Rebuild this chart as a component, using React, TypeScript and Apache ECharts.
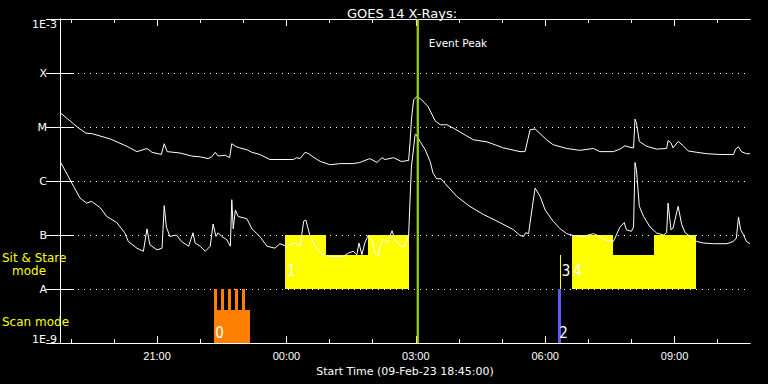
import React, { useEffect, useRef } from 'react';
import * as echarts from 'echarts';

// Time axis: minutes after the start time 18:45 (09-Feb-23), 16 hours shown
const START_CLOCK_MIN = 18 * 60 + 45;
const SPAN_MIN = 960;
const majorTickMin = [135, 315, 495, 675, 855];
const minorTickMin = [15, 75, 195, 255, 375, 435, 555, 615, 735, 795, 915];

const yTickLabels: Record<string, string> = {
  '-9': '1E-9', '-8': 'A', '-7': 'B', '-6': 'C', '-5': 'M', '-4': 'X', '-3': '1E-3',
};

// GOES 14 long channel (1-8 Å), W/m²
const longTimes = [1, 11, 24, 36, 45, 70, 93, 107, 121, 128, 141, 145, 149, 167, 183, 195, 206, 211, 216, 220, 230, 236, 239, 244, 250, 260, 267, 278, 292, 306, 325, 329, 334, 341, 346, 352, 362, 376, 390, 408, 417, 431, 441, 448, 452, 464, 475, 485, 487, 489, 492, 497, 503, 512, 522, 529, 538, 547, 575, 594, 617, 640, 647, 654, 661, 677, 686, 705, 723, 742, 751, 770, 779, 786, 793, 798, 800, 802, 806, 816, 830, 844, 846, 850, 853, 860, 867, 874, 886, 900, 918, 937, 940, 944, 948, 955, 960];
const longFlux = [1.8e-5, 1.4e-5, 1.0e-5, 7.7e-6, 7.5e-6, 6.0e-6, 4.4e-6, 3.5e-6, 4.0e-6, 3.4e-6, 3.1e-6, 4.9e-6, 3.5e-6, 3.3e-6, 2.9e-6, 2.8e-6, 2.6e-6, 2.8e-6, 3.4e-6, 2.9e-6, 3.0e-6, 2.7e-6, 4.9e-6, 4.4e-6, 4.1e-6, 3.8e-6, 3.4e-6, 3.1e-6, 2.5e-6, 2.5e-6, 2.5e-6, 2.7e-6, 2.6e-6, 3.4e-6, 3.2e-6, 2.8e-6, 2.3e-6, 2.0e-6, 2.1e-6, 2.1e-6, 2.2e-6, 2.6e-6, 2.2e-6, 2.7e-6, 2.5e-6, 2.7e-6, 2.3e-6, 2.4e-6, 5.1e-6, 1.4e-5, 3.2e-5, 3.7e-5, 3.2e-5, 2.4e-5, 1.3e-5, 1.1e-5, 1.1e-5, 9.6e-6, 5.8e-6, 5.3e-6, 4.1e-6, 3.5e-6, 3.5e-6, 8.9e-6, 9.2e-6, 5.8e-6, 4.7e-6, 4.0e-6, 3.7e-6, 4.0e-6, 3.5e-6, 3.5e-6, 3.9e-6, 4.5e-6, 4.2e-6, 4.1e-6, 1.4e-5, 1.2e-5, 5.4e-6, 4.4e-6, 3.9e-6, 4.0e-6, 5.6e-6, 5.1e-6, 4.1e-6, 5.4e-6, 4.5e-6, 3.6e-6, 3.4e-6, 3.2e-6, 3.1e-6, 3.1e-6, 3.9e-6, 4.3e-6, 3.5e-6, 3.2e-6, 3.2e-6];

// GOES 14 short channel (0.5-4 Å), W/m²
const shortTimes = [1, 9, 19, 28, 37, 44, 56, 65, 79, 90, 95, 107, 116, 121, 125, 135, 142, 145, 148, 153, 162, 169, 179, 185, 188, 195, 202, 209, 213, 217, 220, 225, 232, 237, 239, 241, 244, 248, 260, 267, 278, 288, 299, 306, 315, 327, 334, 339, 342, 348, 355, 366, 376, 394, 401, 408, 413, 416, 420, 424, 429, 434, 438, 443, 445, 450, 455, 462, 466, 473, 480, 485, 487, 489, 492, 494, 495, 501, 508, 515, 519, 524, 530, 536, 552, 570, 589, 598, 612, 631, 640, 645, 648, 652, 654, 661, 668, 675, 686, 696, 705, 714, 728, 742, 751, 761, 770, 779, 785, 788, 795, 798, 800, 802, 806, 812, 821, 830, 840, 844, 846, 850, 853, 860, 865, 870, 877, 886, 895, 909, 928, 937, 941, 944, 947, 951, 955, 960];
const shortFlux = [2.2e-6, 1.4e-6, 7.9e-7, 4.8e-7, 3.9e-7, 4.2e-7, 3.2e-7, 2.2e-7, 1.7e-7, 1.1e-7, 7.6e-8, 5.7e-8, 5.0e-8, 1.3e-7, 6.6e-8, 5.3e-8, 5.7e-8, 3.5e-7, 1.4e-7, 9.4e-8, 1.0e-7, 7.6e-8, 6.2e-8, 1.1e-7, 7.1e-8, 6.2e-8, 5.0e-8, 6.2e-8, 1.6e-7, 9.4e-8, 1.1e-7, 9.4e-8, 8.2e-8, 6.2e-8, 4.5e-7, 1.3e-7, 2.9e-7, 2.2e-7, 2.0e-7, 1.3e-7, 9.4e-8, 6.2e-8, 5.7e-8, 6.9e-8, 6.2e-8, 7.1e-8, 6.2e-8, 1.8e-7, 1.9e-7, 9.4e-8, 6.2e-8, 4.3e-8, 4.0e-8, 4.0e-8, 4.6e-8, 5.0e-8, 4.3e-8, 7.1e-8, 4.3e-8, 7.1e-8, 1.0e-7, 8.2e-8, 4.6e-8, 4.0e-8, 6.2e-8, 8.4e-8, 7.1e-8, 1.2e-7, 8.2e-8, 6.2e-8, 6.3e-8, 9.4e-8, 4.5e-7, 1.9e-6, 4.1e-6, 7.2e-6, 7.4e-6, 5.4e-6, 3.8e-6, 2.3e-6, 1.4e-6, 1.1e-6, 1.1e-6, 8.9e-7, 5.2e-7, 3.4e-7, 2.4e-7, 2.1e-7, 1.7e-7, 1.25e-7, 9.8e-8, 9.4e-8, 1.1e-7, 1.06e-7, 1.7e-7, 7.4e-7, 5.2e-7, 2.9e-7, 1.8e-7, 1.3e-7, 1.06e-7, 9.8e-8, 9.4e-8, 1.06e-7, 9.4e-8, 7.9e-8, 7.6e-8, 1.4e-7, 1.7e-7, 1.25e-7, 1.17e-7, 1.4e-7, 2.2e-6, 1.6e-6, 3.4e-7, 2.2e-7, 1.4e-7, 1.09e-7, 1.0e-7, 1.1e-7, 3.9e-7, 1.25e-7, 1.35e-7, 3.4e-7, 1.55e-7, 1.09e-7, 9.4e-8, 7.6e-8, 7.1e-8, 6.9e-8, 6.9e-8, 7.6e-8, 8.8e-8, 2.15e-7, 1.25e-7, 1.0e-7, 7.6e-8, 6.9e-8];

// Observing-mode blocks: start/end minutes, top/bottom flux level, kind
const blockStart = [313, 370, 428, 712, 769, 826, 695.5, 214, 214, 224, 234, 243.5, 253, 692.5];
const blockEnd = [370, 428, 486, 769, 826, 885, 696.7, 264, 219, 228.6, 238.3, 248.1, 257.8, 697.1];
const blockTop = [1e-7, 4.2e-8, 1e-7, 1e-7, 4.2e-8, 1e-7, 4.2e-8, 4.1e-9, 1e-8, 1e-8, 1e-8, 1e-8, 1e-8, 1e-8];
const blockBottom = [1e-8, 1e-8, 1e-8, 1e-8, 1e-8, 1e-8, 1e-8, 1e-9, 1e-9, 1e-9, 1e-9, 1e-9, 1e-9, 1e-9];
const blockKind = [0, 0, 0, 0, 0, 0, 0, 1, 1, 1, 1, 1, 1, 2];
const blockColors = ['#ffff00', '#ff8000', '#5a5aff'];

// Event numbers
const eventIds = ['0', '1', '2', '3', '4'];
const eventLabelTimes = [216, 316, 694.7, 698, 714.2];
const eventLabelFlux = [1.55e-9, 2.2e-8, 1.55e-9, 2.2e-8, 2.2e-8];

const peakTime = 497.8;
const peakLabel = 'Event Peak';

const fmtClock = (m: number) => {
  const c = (START_CLOCK_MIN + Math.round(m)) % 1440;
  const h = Math.floor(c / 60);
  const mm = c % 60;
  return `${String(h).padStart(2, '0')}:${String(mm).padStart(2, '0')}`;
};

const WHITE = '#ffffff';
const SANS = "'DejaVu Sans', sans-serif";

export default function App() {
  const ref = useRef<HTMLDivElement>(null);
  useEffect(() => {
    document.body.style.margin = '0';
    document.body.style.background = '#000';
    if (!ref.current) return;
    const chart = echarts.init(ref.current, undefined, { renderer: 'svg' });

    const longData = longTimes.map((t, i) => [t, longFlux[i]]);
    const shortData = shortTimes.map((t, i) => [t, shortFlux[i]]);
    const blockData = blockStart.map((s, i) => [s, blockEnd[i], blockTop[i], blockBottom[i], blockKind[i]]);
    const labelData = eventIds.map((id, i) => [eventLabelTimes[i], eventLabelFlux[i], id]);

    const xBase = {
      type: 'value', min: 0, max: SPAN_MIN, gridIndex: 0,
      axisLine: { show: true, lineStyle: { color: WHITE, width: 1 } },
      splitLine: { show: false },
      minorTick: { show: false },
    };

    const option: any = {
      animation: false,
      backgroundColor: '#000000',
      title: {
        text: 'GOES 14 X-Rays:',
        left: 342,
        top: 2,
        textStyle: { color: WHITE, fontFamily: SANS, fontSize: 13, fontWeight: 'normal' },
      },
      grid: { left: 60, right: 18, top: 19, bottom: 41, containLabel: false },
      xAxis: [
        {
          ...xBase, position: 'bottom',
          axisTick: { show: true, inside: true, length: 7, customValues: majorTickMin, lineStyle: { color: WHITE } },
          axisLabel: {
            show: true, customValues: majorTickMin, color: WHITE, fontFamily: "'Liberation Sans', sans-serif",
            fontSize: 11, margin: 7, formatter: (v: number) => fmtClock(v),
          },
          name: 'Start Time (09-Feb-23 18:45:00)',
          nameLocation: 'middle', nameGap: 20,
          nameTextStyle: { color: WHITE, fontFamily: SANS, fontSize: 11 },
        },
        {
          ...xBase, position: 'bottom',
          axisTick: { show: true, inside: true, length: 4, customValues: minorTickMin, lineStyle: { color: WHITE } },
          axisLabel: { show: false },
        },
        {
          ...xBase, position: 'top',
          axisTick: { show: true, inside: true, length: 7, customValues: majorTickMin, lineStyle: { color: WHITE } },
          axisLabel: { show: false },
        },
        {
          ...xBase, position: 'top',
          axisTick: { show: true, inside: true, length: 4, customValues: minorTickMin, lineStyle: { color: WHITE } },
          axisLabel: { show: false },
        },
      ],
      yAxis: [
        {
          type: 'log', logBase: 10, min: 1e-9, max: 1e-3, position: 'left',
          axisLine: { show: true, lineStyle: { color: WHITE } },
          axisTick: { show: true, inside: true, length: 14, lineStyle: { color: WHITE } },
          minorTick: { show: false },
          axisLabel: {
            color: WHITE, fontFamily: SANS, fontSize: 11, margin: 3,
            formatter: (v: number) => {
              const e = Math.round(Math.log10(v));
              const s = yTickLabels[String(e)] ?? '';
              if (s.length === 1) return `{l|${s}}`;
              return e === -3 ? `{t|${s}}` : `{b|${s}}`;
            },
            rich: {
              l: { color: WHITE, fontFamily: SANS, fontSize: 11, padding: [0, 10, 0, 0] },
              t: { color: WHITE, fontFamily: SANS, fontSize: 11, padding: [10, 0, 0, 0] },
              b: { color: WHITE, fontFamily: SANS, fontSize: 11, padding: [0, 0, 8, 0] },
            },
          },
          splitLine: { show: true, lineStyle: { color: WHITE, width: 1, type: [1, 5] } },
        },
        {
          type: 'log', logBase: 10, min: 1e-9, max: 1e-3, position: 'right',
          axisLine: { show: true, lineStyle: { color: WHITE } },
          axisTick: { show: true, inside: true, length: 14, lineStyle: { color: WHITE } },
          minorTick: { show: false },
          axisLabel: { show: false },
          splitLine: { show: false },
        },
      ],
      graphic: [
        { type: 'text', left: 2, top: 252, style: { text: 'Sit & Stare', fill: '#ffff00', font: `12px ${SANS}` } },
        { type: 'text', left: 12, top: 265, style: { text: 'mode', fill: '#ffff00', font: `12px ${SANS}` } },
        { type: 'text', left: 2, top: 316, style: { text: 'Scan mode', fill: '#ffff00', font: `12px ${SANS}` } },
      ],
      series: [
        {
          type: 'custom', name: 'modes', xAxisIndex: 0, yAxisIndex: 0, z: 2,
          data: blockData,
          encode: { x: [0, 1], y: [2, 3] },
          renderItem: (params: any, api: any) => {
            const p0 = api.coord([api.value(0), api.value(2)]);
            const p1 = api.coord([api.value(1), api.value(3)]);
            const x0 = Math.round(p0[0]);
            const x1 = Math.max(Math.round(p1[0]), x0 + 1);
            const y0 = Math.round(p0[1]);
            const y1 = Math.round(p1[1]);
            return {
              type: 'rect',
              shape: { x: x0, y: y0, width: x1 - x0, height: y1 - y0 },
              style: { fill: blockColors[api.value(4)] },
            };
          },
        },
        {
          type: 'line', name: 'long', xAxisIndex: 0, yAxisIndex: 0, z: 3,
          data: longData, showSymbol: false, symbol: 'none',
          lineStyle: { color: WHITE, width: 1 },
        },
        {
          type: 'line', name: 'short', xAxisIndex: 0, yAxisIndex: 0, z: 3,
          data: shortData, showSymbol: false, symbol: 'none',
          lineStyle: { color: WHITE, width: 1 },
        },
        {
          type: 'custom', name: 'labels', xAxisIndex: 0, yAxisIndex: 0, z: 4,
          data: labelData,
          encode: { x: 0, y: 1 },
          renderItem: (params: any, api: any) => {
            const p = api.coord([api.value(0), api.value(1)]);
            return {
              type: 'text', x: p[0], y: p[1],
              style: {
                text: eventIds[params.dataIndex], fill: WHITE,
                font: "15px 'Liberation Sans Narrow', 'DejaVu Sans Condensed', sans-serif",
                align: 'left', verticalAlign: 'middle',
              },
            };
          },
        },
        {
          type: 'custom', name: 'peak', xAxisIndex: 0, yAxisIndex: 0, z: 5,
          data: [[peakTime, 1e-3, 1e-9]],
          encode: { x: 0, y: [1, 2] },
          renderItem: (params: any, api: any) => {
            const p0 = api.coord([api.value(0), api.value(1)]);
            const p1 = api.coord([api.value(0), api.value(2)]);
            return {
              type: 'group',
              children: [
                { type: 'line', shape: { x1: p0[0], y1: p0[1], x2: p1[0], y2: p1[1] }, style: { stroke: '#99cc00', lineWidth: 2.3 } },
                { type: 'text', x: p0[0] + 11, y: p0[1] + 24, style: { text: peakLabel, fill: WHITE, font: `10.5px ${SANS}`, align: 'left', verticalAlign: 'middle' } },
              ],
            };
          },
        },
      ],
    };
    chart.setOption(option);
    return () => chart.dispose();
  }, []);
  return <div ref={ref} style={{ position: 'fixed', left: 0, top: 0, width: 768, height: 384 }} />;
}
